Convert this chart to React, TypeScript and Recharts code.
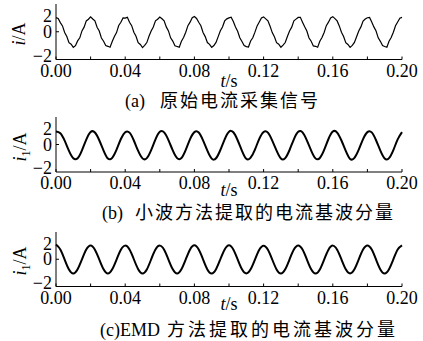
import { Line, LineChart, XAxis, YAxis } from "recharts";

// sampling steps of the three traces
const rawStep = 0.00125;
const fundStep = 0.0025;

const xTicks = [0, 0.02, 0.04, 0.06, 0.08, 0.1, 0.12, 0.14, 0.16, 0.18, 0.2];
const yTicks = [-2, 0, 2];

// (a) measured current, noisy
const rawCurrent = [
  1.02, 0.96, 0.66, 0.42, -0.05, -0.34, -0.79, -0.9, -1.12, -1.0, -0.66, -0.44, 0.06, 0.33, 0.78, 0.9,
  1.08, 0.92, 0.78, 0.33, 0.05, -0.45, -0.68, -1.0, -1.05, -1.12, -0.7, -0.34, -0.06, 0.45, 0.68, 1.0,
  0.98, 1.04, 0.68, 0.44, -0.04, -0.33, -0.78, -0.92, -1.14, -0.98, -0.78, -0.33, 0.05, 0.34, 0.79, 0.9,
  1.06, 0.94, 0.79, 0.35, 0.06, -0.44, -0.67, -1.01, -1.06, -1.11, -0.68, -0.42, -0.04, 0.44, 0.69, 1.01,
  1.1, 0.96, 0.68, 0.43, -0.05, -0.35, -0.78, -0.91, -1.13, -0.99, -0.77, -0.35, 0.07, 0.34, 0.78, 0.93,
  1.0, 1.05, 0.74, 0.34, 0.04, -0.43, -0.7, -0.99, -1.07, -1.1, -0.67, -0.43, -0.03, 0.42, 0.7, 0.99,
  1.07, 0.93, 0.79, 0.4, -0.06, -0.36, -0.79, -0.9, -1.12, -0.97, -0.78, -0.34, 0.06, 0.33, 0.79, 0.91,
  1.03, 1.04, 0.69, 0.36, 0.05, -0.45, -0.68, -1.02, -1.05, -1.12, -0.69, -0.41, -0.05, 0.44, 0.69, 1.0,
  1.09, 0.95, 0.78, 0.42, -0.04, -0.34, -0.79, -0.92, -1.13, -0.98, -0.77, -0.36, 0.06, 0.35, 0.77, 0.92,
  1.01, 1.03, 0.7, 0.35, 0.05, -0.44, -0.69, -1.0, -1.06, -1.11, -0.68, -0.42, -0.04, 0.43, 0.7, 0.98,
  1.04,
];

// (b) wavelet fundamental
const waveletFund = [
  0.95, 0.82, 0.28, -0.46, -1.0, -1.0, -0.42, 0.36,
  0.91, 0.87, 0.31, -0.44, -1.02, -0.97, -0.38, 0.4,
  0.89, 0.86, 0.29, -0.47, -1.01, -0.99, -0.41, 0.37,
  0.92, 0.88, 0.32, -0.43, -0.99, -0.98, -0.39, 0.39,
  0.9, 0.87, 0.3, -0.45, -1.03, -1.0, -0.4, 0.38,
  0.93, 0.89, 0.31, -0.46, -1.04, -0.96, -0.37, 0.41,
  0.91, 0.86, 0.28, -0.45, -1.02, -0.99, -0.4, 0.38,
  0.92, 0.88, 0.3, -0.44, -1.01, -0.98, -0.39, 0.4,
  0.94, 0.87, 0.29, -0.47, -1.05, -0.97, -0.38, 0.39,
  0.9, 0.88, 0.31, -0.45, -1.02, -0.99, -0.41, 0.37,
  0.9,
];

// (c) EMD fundamental
const emdFund = [
  1.08, 0.72, -0.02, -0.75, -1.04, -0.73, -0.01, 0.71,
  1.01, 0.7, -0.01, -0.74, -1.05, -0.74, -0.02, 0.7,
  1.0, 0.71, 0.0, -0.73, -1.04, -0.75, -0.01, 0.71,
  1.0, 0.7, -0.02, -0.74, -1.05, -0.74, -0.01, 0.72,
  1.02, 0.71, -0.01, -0.75, -1.05, -0.73, 0.0, 0.72,
  1.03, 0.72, -0.01, -0.74, -1.04, -0.74, -0.02, 0.7,
  1.0, 0.7, -0.02, -0.75, -1.05, -0.74, -0.01, 0.71,
  1.01, 0.71, -0.01, -0.74, -1.05, -0.75, -0.02, 0.7,
  1.0, 0.7, -0.01, -0.74, -1.04, -0.74, -0.01, 0.71,
  1.01, 0.71, -0.02, -0.75, -1.05, -0.73, -0.01, 0.71,
  1.02,
];

const SERIF = '"Liberation Serif", "Times New Roman", serif';
const CJK = '"Noto Sans CJK SC", "Noto Sans CJK JP", sans-serif';

const toRows = (values: number[], step: number) =>
  values.map((v, i) => ({ t: +(i * step).toFixed(6), v }));

function BottomTick({ x, y, payload }: any) {
  const v = payload.value as number;
  const labelled = Math.round(v * 100) % 4 === 0;
  return (
    <g>
      <line x1={x} x2={x} y1={y} y2={y - 3} stroke="#000" />
      {labelled && (
        <text x={x} y={y + 17} textAnchor="middle" fontFamily={SERIF} fontSize={18} fill="#000">
          {v.toFixed(2)}
        </text>
      )}
    </g>
  );
}

function TopTick({ x, y }: any) {
  return <line x1={x} x2={x} y1={y} y2={y + 3} stroke="#000" />;
}

function LeftTick({ x, y, payload }: any) {
  const v = payload.value as number;
  const dy = v > 0 ? 18 : v < 0 ? 2 : 6;
  return (
    <g>
      {v === 0 && <line x1={x} x2={x + 3} y1={y} y2={y} stroke="#000" />}
      <text x={x - 4} y={y + dy} textAnchor="end" fontFamily={SERIF} fontSize={18} fill="#000">
        {v < 0 ? `\u2212${Math.abs(v)}` : String(v)}
      </text>
    </g>
  );
}

function RightTick({ x, y, payload }: any) {
  if (payload.value !== 0) return <g />;
  return <line x1={x} x2={x - 3} y1={y} y2={y} stroke="#000" />;
}

function Panel({ plotTop, plotH, rows, strokeWidth, curve }: any) {
  return (
    <div style={{ position: "absolute", left: 0, top: plotTop - 4 }}>
      <LineChart width={423} height={4 + plotH + 26} data={rows} margin={{ top: 4, right: 21, bottom: 0, left: 0 }}>
        <XAxis
          type="number"
          dataKey="t"
          domain={[0, 0.2]}
          ticks={xTicks}
          interval={0}
          height={26}
          tickSize={0}
          tickMargin={0}
          stroke="#000"
          tick={<BottomTick />}
        />
        <XAxis
          xAxisId="top"
          orientation="top"
          type="number"
          dataKey="t"
          domain={[0, 0.2]}
          ticks={xTicks}
          interval={0}
          height={0}
          tickSize={0}
          tickMargin={0}
          stroke="#000"
          tick={<TopTick />}
        />
        <YAxis
          type="number"
          domain={[-2, 2]}
          ticks={yTicks}
          interval={0}
          width={56}
          tickSize={0}
          tickMargin={0}
          stroke="#000"
          tick={<LeftTick />}
        />
        <YAxis
          yAxisId="r"
          orientation="right"
          type="number"
          domain={[-2, 2]}
          ticks={yTicks}
          interval={0}
          width={0}
          tickSize={0}
          tickMargin={0}
          stroke="#000"
          tick={<RightTick />}
        />
        <Line
          type={curve}
          dataKey="v"
          stroke="#000"
          strokeWidth={strokeWidth}
          dot={false}
          isAnimationActive={false}
        />
      </LineChart>
    </div>
  );
}

export default function App() {
  const txt = { fontFamily: SERIF, fontSize: 18, fill: "#000" };
  return (
    <div style={{ position: "absolute", left: 0, top: 0, width: 423, height: 341, background: "#fff" }}>
      <Panel plotTop={4} plotH={55.5} rows={toRows(rawCurrent, rawStep)} strokeWidth={1.2} curve="linear" />
      <Panel plotTop={117} plotH={55} rows={toRows(waveletFund, fundStep)} strokeWidth={2} curve="natural" />
      <Panel plotTop={231.5} plotH={54.5} rows={toRows(emdFund, fundStep)} strokeWidth={2} curve="natural" />
      <svg width={423} height={341} style={{ position: "absolute", left: 0, top: 0, pointerEvents: "none" }}>
        {/* y titles */}
        <text {...txt} textAnchor="middle" transform="translate(25,34) rotate(-90)">
          <tspan fontStyle="italic">i</tspan>/A
        </text>
        <text {...txt} textAnchor="middle" transform="translate(26,147) rotate(-90)">
          <tspan fontStyle="italic">i</tspan>
          <tspan fontSize={12} dy={4}>1</tspan>
          <tspan dy={-4}>/A</tspan>
        </text>
        <text {...txt} textAnchor="middle" transform="translate(26,261) rotate(-90)">
          <tspan fontStyle="italic">i</tspan>
          <tspan fontSize={12} dy={4}>1</tspan>
          <tspan dy={-4}>/A</tspan>
        </text>
        {/* x titles */}
        <text {...txt} x={229} y={87} textAnchor="middle">
          <tspan fontStyle="italic">t</tspan>/s
        </text>
        <text {...txt} x={229} y={196} textAnchor="middle">
          <tspan fontStyle="italic">t</tspan>/s
        </text>
        <text {...txt} x={229} y={310} textAnchor="middle">
          <tspan fontStyle="italic">t</tspan>/s
        </text>
        {/* captions */}
        <text {...txt} x={125} y={107}>(a)</text>
        <text x={160} y={107} fontFamily={CJK} fontSize={18} style={{ letterSpacing: 2 }}>原始电流采集信号</text>
        <text {...txt} x={102} y={219}>(b)</text>
        <text x={135} y={219} fontFamily={CJK} fontSize={18} style={{ letterSpacing: 2 }}>小波方法提取的电流基波分量</text>
        <text {...txt} x={100} y={336}>(c)</text>
        <text {...txt} x={120} y={336}>EMD</text>
        <text x={167} y={336} fontFamily={CJK} fontSize={18} style={{ letterSpacing: 3 }}>方法提取的电流基波分量</text>
      </svg>
    </div>
  );
}
